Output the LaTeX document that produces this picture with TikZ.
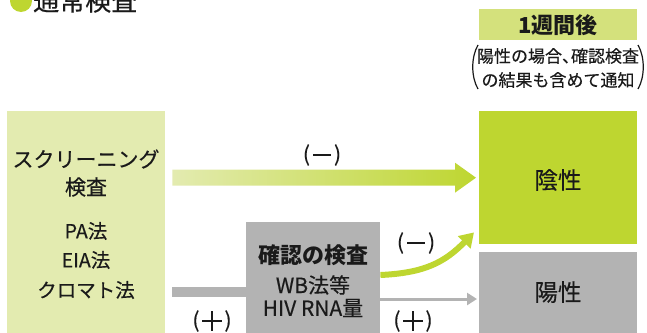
\documentclass[tikz,border=0pt]{standalone}
\usepackage{fontspec}
\setmainfont{Noto Sans CJK JP}
\newfontfamily\medfont{Noto Sans CJK JP}[FakeBold=0.4]
\usetikzlibrary{arrows.meta,calc}
\definecolor{kgreen}{HTML}{BED630}
\definecolor{lgreen}{HTML}{E3EBB0}
\definecolor{wgreen}{HTML}{D4E17C}
\definecolor{kgray}{HTML}{B3B3B3}
\definecolor{textc}{HTML}{1A1A1A}
\newcommand{\fs}[1]{\fontsize{#1}{#1}\selectfont}
\newcommand{\minuslab}{(\kern3pt\rule[6pt]{18pt}{1.7pt}\kern3pt)}
\newcommand{\pluslab}{(\kern2.5pt\rule[6pt]{20pt}{1.7pt}\kern-10.85pt\rule[-3.15pt]{1.7pt}{20pt}\kern9.15pt\kern2.5pt)}
\begin{document}
\begin{tikzpicture}[x=1pt,y=-1pt,
  txt/.style={inner sep=0pt, text=textc},
  box/.style={inner sep=0pt, draw=none, anchor=north west}]
\useasboundingbox (0,0) rectangle (647,332);
\clip (0,0) rectangle (647,332);

% title
\fill[kgreen] (21,1) circle (11);
\node[txt, anchor=base west, font=\medfont\fs{26}] (title) at (33,10.5) {通常検査};

% boxes
\node[box, fill=lgreen, minimum width=158pt, minimum height=240pt] (leftbox) at (7,111) {};
\node[box, fill=kgreen, minimum width=158pt, minimum height=133pt] (negbox) at (479,111) {};
\node[box, fill=kgray, minimum width=158pt, minimum height=100pt] (posbox) at (479,252) {};
\node[box, fill=kgray, minimum width=134pt, minimum height=120pt] (confbox) at (246,222) {};
\node[box, fill=wgreen, minimum width=158pt, minimum height=31pt] (weekbox) at (479,9) {};

% box texts
\node[txt, font=\medfont\fs{21}] (t1) at (86,159) {スクリーニング};
\node[txt, font=\medfont\fs{21}] (t2) at (86,187) {検査};
\node[txt, font=\medfont\fs{19.5}] (t3) at (86,231) {PA法};
\node[txt, font=\medfont\fs{19.5}] (t4) at (86,260) {EIA法};
\node[txt, font=\medfont\fs{19.5}] (t5) at (86,290) {クロマト法};

\node[txt, font=\bfseries\fs{22}] (c1) at (313,255) {確認の検査};
\node[txt, font=\medfont\fs{21}] (c2) at (313,285) {WB法等};
\node[txt, font=\medfont\fs{21}] (c3) at (313,308) {HIV RNA量};

\node[txt, font=\medfont\fs{23.5}] (n1) at (558,180) {陰性};
\node[txt, font=\medfont\fs{23.5}] (p1) at (558,292) {陽性};

\node[txt, font=\bfseries\fs{22}] (w1) at (weekbox.center) {1週間後};
\node[txt, font=\medfont\fs{17}] (w2) at (558,56) {陽性の場合、\kern-8pt確認検査};
\node[txt, font=\medfont\fs{17}] (w3) at (558,80) {の結果も含めて通知};
\draw[textc, line width=1.2pt] (478,45) .. controls (471,57) and (471,77) .. (478,89);
\draw[textc, line width=1.2pt] (638,45) .. controls (645,57) and (645,77) .. (638,89);

% top shaded arrow
\coordinate (a1) at ($(leftbox.east |- negbox.west)+(7,0)$);
\coordinate (a2) at ($(negbox.west)+(-3,0)$);
\shade[left color=lgreen, right color=kgreen]
  ($(a1)+(0,-8)$) -- ($(a2)+(-21,-8)$) -- ($(a2)+(-21,-15)$) -- (a2)
  -- ($(a2)+(-21,15)$) -- ($(a2)+(-21,8)$) -- ($(a1)+(0,8)$) -- cycle;
\node[txt, font=\medfont\fs{21}] (lm1) at (322,155) {\minuslab};

% gray line to confirmation
\coordinate (gy) at (0,292);
\draw[kgray, line width=10pt] ($(leftbox.east |- gy)+(7,0)$) -- (confbox.west |- gy);
\node[txt, font=\medfont\fs{21}] (lp1) at (212,321) {\pluslab};

% thin gray arrow to positive
\coordinate (py) at (0,299);
\draw[kgray, line width=3pt, -{Triangle[length=10pt,width=12pt]}]
  (confbox.east |- py) -- ($(posbox.west |- py)+(-2,0)$);
\node[txt, font=\medfont\fs{21}] (lp2) at (413,321) {\pluslab};

% green curved arrow to negative
\coordinate (gs) at (0,275);
\draw[kgreen, line width=6pt, -{Triangle[length=14pt,width=17pt]}]
  (confbox.east |- gs) .. controls (425,273) and (445,262) .. ($(negbox.south west)+(-5,-12)$);
\node[txt, font=\medfont\fs{21}] (lm2) at (416,243) {\minuslab};
\end{tikzpicture}
\end{document}
